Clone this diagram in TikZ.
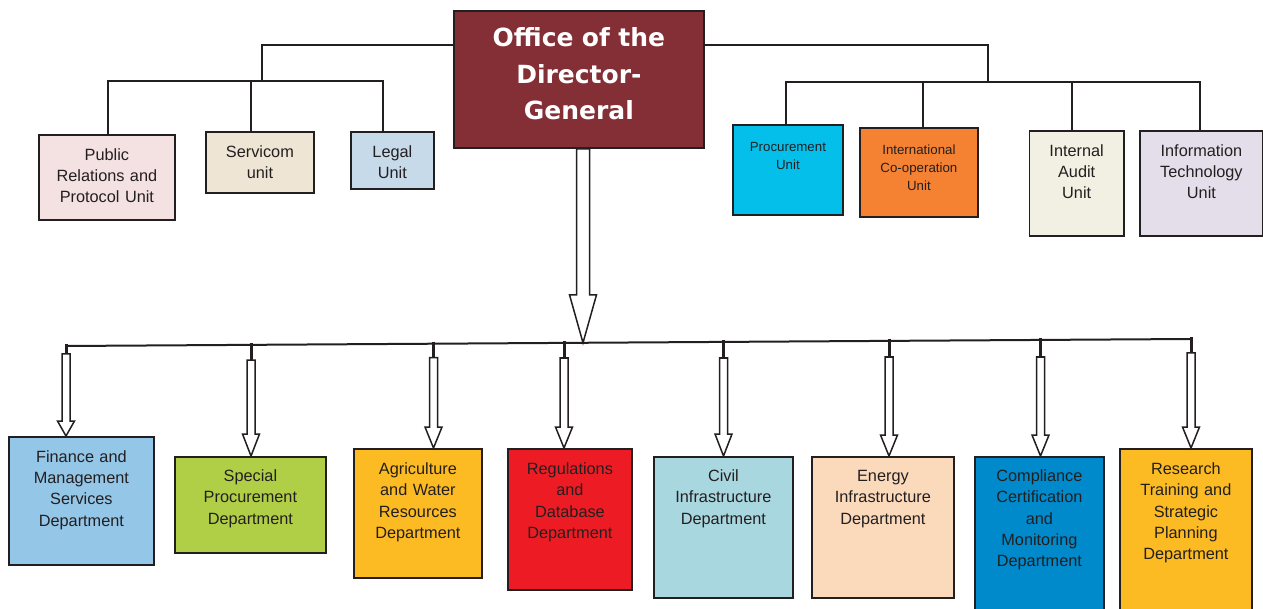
\documentclass[tikz,border=0pt]{standalone}
\usepackage{fontspec}
\setmainfont{Liberation Sans}
\newfontfamily\headfont{DejaVu Sans}
\usetikzlibrary{calc}

\definecolor{ink}{HTML}{231F20}
\definecolor{dgred}{HTML}{832F35}
\definecolor{prpink}{HTML}{F4E1E2}
\definecolor{servbeige}{HTML}{EFE5D4}
\definecolor{legalblue}{HTML}{C6DAEA}
\definecolor{proccyan}{HTML}{05BFEB}
\definecolor{intlorange}{HTML}{F58232}
\definecolor{auditcream}{HTML}{F2F0E2}
\definecolor{itlilac}{HTML}{E4DEEA}
\definecolor{finblue}{HTML}{94C6E8}
\definecolor{specgreen}{HTML}{B1CF46}
\definecolor{deptyellow}{HTML}{FCBB22}
\definecolor{regred}{HTML}{ED1C24}
\definecolor{civteal}{HTML}{A9D7DF}
\definecolor{enerpeach}{HTML}{FBDABC}
\definecolor{compblue}{HTML}{0089CB}

\begin{document}
\begin{tikzpicture}[x=1pt,y=-1pt,
  unit/.style={draw=ink,line width=1.8pt,anchor=north west,inner sep=0pt,align=center,text=ink,
    font=\fontsize{16.3}{21.3}\selectfont},
  small/.style={font=\fontsize{13.3}{18}\selectfont},
  head/.style={font=\headfont\bfseries\fontsize{25}{36.5}\selectfont,text=white},
  wire/.style={draw=ink,line width=2pt},
  stub/.style={draw=ink,line width=3pt},
  hollow/.style={draw=ink,line width=1.5pt,fill=white,line join=miter}
  ]
\useasboundingbox (0,0) rectangle (1263,609);
% hollow arrow: top point, tip point, shaft half width, head half width, head length
\def\harrow#1#2#3#4#5{%
  \draw[hollow] let \p1=(#1), \p2=(#2) in
    (\x2-#3,\y1) -- (\x2-#3,\y2+#5) -- (\x2-#4,\y2+#5) -- (\x2,\y2)
    -- (\x2+#4,\y2+#5) -- (\x2+#3,\y2+#5) -- (\x2+#3,\y1) -- cycle;}
% bus point, department, stub length, head length
\def\darrow#1#2#3#4{%
  \draw[stub] ($(#1)+(0,-2)$) -- ($(#1)+(0,#3)$);
  \harrow{$(#1)+(0,#3)$}{#1 |- #2.north}{4pt}{8.5pt}{#4pt}}

% director-general and units
\node[unit,fill=dgred,head,text width=250pt,text height=36pt,text depth=101pt] (dg) at (453,10)
  {Office of the\\Director-\\General};
\node[unit,fill=prpink,text width=136pt,text height=25.5pt,text depth=59.5pt] (pr) at (38,134)
  {Public\\Relations and\\Protocol Unit};
\node[unit,fill=servbeige,text width=108pt,text height=25.2pt,text depth=35.8pt] (serv) at (205,131)
  {Servicom\\unit};
\node[unit,fill=legalblue,text width=83pt,text height=25.2pt,text depth=31.8pt] (legal) at (350,131)
  {Legal\\Unit};
\node[unit,small,fill=proccyan,text width=110pt,text height=26.7pt,text depth=63.3pt] (proc) at (732,124)
  {Procurement\\Unit};
\node[unit,small,fill=intlorange,text width=118pt,text height=26.7pt,text depth=62.3pt] (intl) at (859,127)
  {International\\Co-operation\\Unit};
\node[unit,fill=auditcream,text width=94.5pt,text height=25.5pt,text depth=79.5pt] (audit) at (1028.5,130)
  {Internal\\Audit\\Unit};
\node[unit,fill=itlilac,text width=123pt,text height=25.5pt,text depth=79.5pt] (it) at (1139,130)
  {Information\\Technology\\Unit};

% departments
\node[unit,fill=finblue,text width=145pt,text height=25.2pt,text depth=102.8pt] (fin) at (8,436)
  {Finance and\\Management\\Services\\Department};
\node[unit,fill=specgreen,text width=151pt,text height=24.5pt,text depth=71.5pt] (spec) at (174,456)
  {Special\\Procurement\\Department};
\node[unit,fill=deptyellow,text width=128pt,text height=25.5pt,text depth=103.5pt] (agri) at (353,448)
  {Agriculture\\and Water\\Resources\\Department};
\node[unit,fill=regred,text width=124pt,text height=25.5pt,text depth=115.5pt] (reg) at (507,448)
  {Regulations\\and\\Database\\Department};
\node[unit,fill=civteal,text width=139pt,text height=24.5pt,text depth=116.5pt] (civ) at (653,456)
  {Civil\\Infrastructure\\Department};
\node[unit,fill=enerpeach,text width=142pt,text height=24.5pt,text depth=116.5pt] (ener) at (811,456)
  {Energy\\Infrastructure\\Department};
\node[unit,fill=compblue,text width=129pt,text height=24.5pt,text depth=135.5pt] (comp) at (974,456)
  {Compliance\\Certification\\and\\Monitoring\\Department};
\node[unit,fill=deptyellow,text width=132pt,text height=25.5pt,text depth=142.5pt] (res) at (1119,448)
  {Research\\Training and\\Strategic\\Planning\\Department};

% unit connectors
\coordinate (lt) at (453,45);
\coordinate (lj) at (262,81);
\coordinate (l1) at (108,81);
\coordinate (l2) at (251,81);
\coordinate (l3) at (383,81);
\draw[wire] (lt) -| (lj);
\draw[wire] (l1 |- pr.north) -- (l1) -- (l3) -- (l3 |- legal.north);
\draw[wire] (l2) -- (l2 |- serv.north);
\coordinate (rt) at (703,45);
\coordinate (rj) at (988,82);
\coordinate (r1) at (786,82);
\coordinate (r2) at (923,82);
\coordinate (r3) at (1071.5,82);
\coordinate (r4) at (1200,82);
\draw[wire] (rt) -| (rj);
\draw[wire] (r1 |- proc.north) -- (r1) -- (r4) -- (r4 |- it.north);
\draw[wire] (r2) -- (r2 |- intl.north);
\draw[wire] (r3) -- (r3 |- audit.north);

% department bus
\coordinate (s1) at (66,346);
\coordinate (s2) at (251,345);
\coordinate (s3) at (433.5,343.7);
\coordinate (s4) at (564,343);
\coordinate (s5) at (723.5,342);
\coordinate (s6) at (889,341);
\coordinate (s7) at (1040.5,340);
\coordinate (s8) at (1191,339);
\coordinate (dgtip) at (583,342.8);
\draw[wire] (s1) -- (s8);
\harrow{dg.south}{dgtip}{6.5pt}{13.5pt}{48pt}
\darrow{s1}{fin}{8}{15}
\darrow{s2}{spec}{15}{22}
\darrow{s3}{agri}{14}{21}
\darrow{s4}{reg}{15}{21}
\darrow{s5}{civ}{16}{22}
\darrow{s6}{ener}{16}{21}
\darrow{s7}{comp}{17}{21}
\darrow{s8}{res}{14}{21}
\end{tikzpicture}
\end{document}
